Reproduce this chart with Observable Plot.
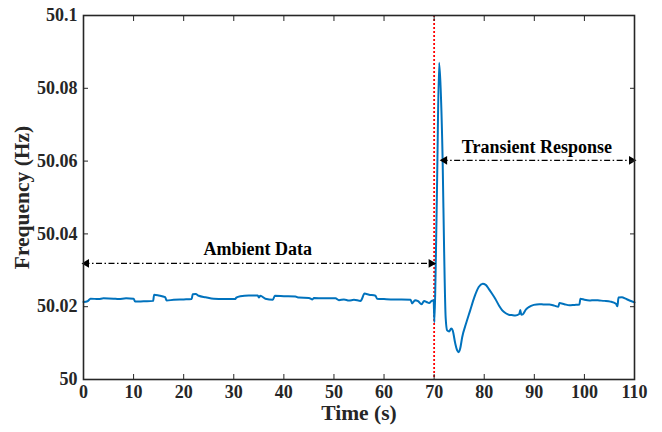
<!DOCTYPE html>
<html><head><meta charset="utf-8">
<script src="https://cdn.jsdelivr.net/npm/d3@7"></script>
<script src="https://cdn.jsdelivr.net/npm/@observablehq/plot@0.6"></script>
<style>body{margin:0;background:#fff} svg{display:block}</style>
</head><body><div id="chart"></div>
<script>
const time = [0,0.8,1.4,3,4,6,7,8.5,10,10.3,12,13.9,14.1,15,16.3,16.6,18,20,21.6,21.8,22.4,23,24.4,26,28,30.3,30.5,31.3,33,34.8,35,35.3,36.3,37.8,38.2,40,42.3,43,45,45.7,46,48,50.3,51,52,53,54,55.3,55.5,56.1,57,58.3,58.6,60,62,63.5,65.3,65.6,66.2,66.8,67.5,68,68.5,69,69.5,69.9,70.05,70.3,70.6,71.0,71.3,71.7,72.0,72.3,72.6,73.0,73.4,73.7,74.2,74.6,74.9,75.2,75.6,76.4,77.2,78,78.9,79.7,80.3,80.9,81.5,82.2,83,83.6,84.3,84.9,85.5,86.2,87,87.2,87.4,87.7,88.3,88.9,89.9,91,92,93,94,94.8,95,96,97,98,99,99.2,100,101,102,103,104,105.2,106.3,106.6,106.8,107.5,108.2,109,110];
const freq = [50.0213,50.0215,50.0222,50.0221,50.0223,50.0222,50.0221,50.0223,50.0222,50.0214,50.0215,50.0216,50.0233,50.0231,50.0226,50.0217,50.0219,50.0220,50.0221,50.0234,50.0235,50.0230,50.0226,50.0222,50.0221,50.0221,50.0225,50.0229,50.0231,50.0231,50.0225,50.0230,50.0222,50.0219,50.0230,50.0229,50.0228,50.0225,50.0224,50.0220,50.0224,50.0223,50.0223,50.0218,50.0220,50.0217,50.0219,50.0216,50.0219,50.0236,50.0233,50.0230,50.0222,50.0221,50.0220,50.0220,50.0219,50.0209,50.0218,50.0215,50.0207,50.0216,50.0213,50.0210,50.0216,50.0218,50.0157,50.0300,50.0550,50.0870,50.0800,50.0600,50.0350,50.0170,50.0135,50.0132,50.0140,50.0135,50.0100,50.0080,50.0075,50.0085,50.0116,50.0155,50.0190,50.0225,50.0254,50.0263,50.0260,50.0249,50.0237,50.0222,50.0202,50.0190,50.0182,50.0178,50.0177,50.0176,50.0180,50.0191,50.0178,50.0179,50.0192,50.0199,50.0205,50.0207,50.0206,50.0206,50.0203,50.0200,50.0210,50.0207,50.0204,50.0205,50.0206,50.0222,50.0219,50.0217,50.0218,50.0217,50.0216,50.0214,50.0208,50.0201,50.0225,50.0226,50.0222,50.0217,50.0212];
const xTicks = [0,10,20,30,40,50,60,70,80,90,100,110];
const yTicks = [50,50.02,50.04,50.06,50.08,50.1];
const yTickLabels = ["50","50.02","50.04","50.06","50.08","50.1"];
const eventTime = [70];
const annotationLabels = ["Ambient Data","Transient Response"];
const annotationX = [34.8,90.5];
const annotationY = [50.0357,50.0639];
const arrowStart = [0,71.5];
const arrowEnd = [70,110];
const arrowY = [50.0319,50.0602];

const series = time.map((t,i)=>({t, f: freq[i]}));
const arrows = arrowStart.map((s,i)=>({x1:s, x2:arrowEnd[i], y:arrowY[i]}));
const notes = annotationLabels.map((l,i)=>({l, x:annotationX[i], y:annotationY[i]}));
const yFmt = d => { const i = yTicks.findIndex(v=>Math.abs(v-d)<1e-9); return i>=0 ? yTickLabels[i] : ""; };
const ink = "#262626";

const chart = Plot.plot({
  width: 662, height: 432,
  marginLeft: 83, marginRight: 28, marginTop: 15, marginBottom: 53,
  style: {fontFamily: "'Liberation Serif','Times New Roman',serif", fontWeight: "bold", fontSize: "18px", color: ink, background: "#fff"},
  x: {domain: [0,110]},
  y: {domain: [50,50.1]},
  marks: [
    Plot.ruleX(eventTime, {x: d=>d, stroke: "#ff0000", strokeWidth: 1.8, strokeDasharray: "2,2"}),
    Plot.line(series, {x: "t", y: "f", stroke: "#0072BD", strokeWidth: 2, curve: "monotone-x"}),
    Plot.link(arrows, {x1: "x1", x2: "x2", y1: "y", y2: "y", stroke: "#000", strokeWidth: 1.3, strokeDasharray: "6,2.5,1.5,2.5"}),
    Plot.dot(arrows, {x: "x1", y: "y", symbol: "triangle", r: 3.2, fill: "#000", rotate: -90, dx: 3}),
    Plot.dot(arrows, {x: "x2", y: "y", symbol: "triangle", r: 3.2, fill: "#000", rotate: 90, dx: -3}),
    Plot.text(notes, {x: "x", y: "y", text: "l", fontSize: 18, fill: "#000"}),
    Plot.frame({stroke: ink, strokeWidth: 1.6}),
    Plot.axisX({ticks: xTicks, anchor: "bottom", tickSize: -5, tickPadding: 11, label: null, stroke: ink, fill: ink}),
    Plot.axisX({ticks: xTicks, anchor: "top", tickSize: -5, tickFormat: () => "", label: null, stroke: ink}),
    Plot.axisY({ticks: yTicks, anchor: "left", tickSize: -5, tickPadding: 11, tickFormat: yFmt, label: null, stroke: ink, fill: ink}),
    Plot.axisY({ticks: yTicks, anchor: "right", tickSize: -5, tickFormat: () => "", label: null, stroke: ink}),
    Plot.text(["Time (s)"], {frameAnchor: "bottom", lineAnchor: "middle", textAnchor: "middle", dy: 34, fontSize: 21.5, fill: ink}),
    Plot.text(["Frequency (Hz)"], {frameAnchor: "left", lineAnchor: "middle", textAnchor: "middle", dx: -61, rotate: -90, fontSize: 21.5, fill: ink})
  ]
});
document.getElementById("chart").appendChild(chart);
</script>
</body></html>
